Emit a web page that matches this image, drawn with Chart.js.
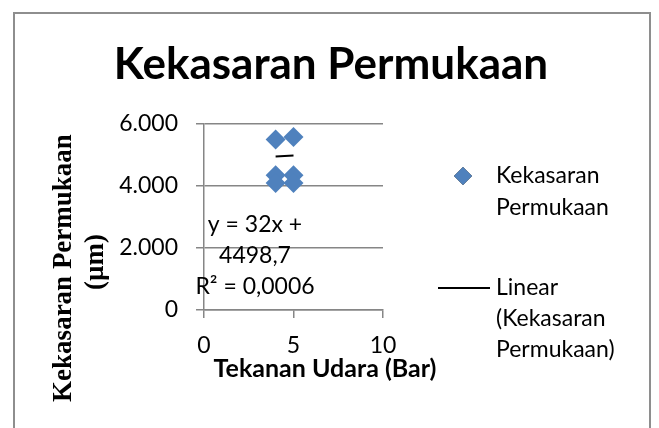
<!DOCTYPE html>
<html>
<head>
<meta charset="utf-8">
<script src="https://cdn.jsdelivr.net/npm/chart.js@4.4.1/dist/chart.umd.min.js"></script>
<style>
  body { margin: 0; background: #fff; }
  #wrap { position: relative; width: 659px; height: 428px; overflow: hidden; }
  #frame { position: absolute; left: 13px; top: 12px; width: 638px; height: 430px; border: 2px solid #8e8e8e; box-sizing: border-box; }
  canvas { position: absolute; left: 0; top: 0; }
</style>
</head>
<body>
<div id="wrap">
  <div id="frame"></div>
  <canvas id="myChart" width="659" height="428"></canvas>
</div>
<script>
// values
const pressure = [4, 4, 4, 5, 5, 5]
const roughness = [5500, 4350, 4100, 5580, 4350, 4100]
const trendX = [4, 5]
const trendY = [4955, 4987]
const xTicks = [0, 5, 10]
const yTicks = [0, 2000, 4000, 6000]

const chartTitle = 'Kekasaran Permukaan'
const xTitle = 'Tekanan Udara (Bar)'
const yTitle = ['Kekasaran Permukaan', '(µm)']
const equation = ['y = 32x +', '4498,7', 'R² = 0,0006']
const legendScatter = ['Kekasaran', 'Permukaan']
const legendTrend = ['Linear', '(Kekasaran', 'Permukaan)']

const blue = '#4F81BD'
const axisGray = '#868686'
const sans = 'Lato, "Open Sans", sans-serif'

function formatThousands(v) {
    return v === 0 ? '0' : (v / 1000).toFixed(3)
}

const textPlugin = {
    id: 'texts',
    afterDraw(chart) {
        const ctx = chart.ctx
        const area = chart.chartArea
        ctx.save()
        ctx.fillStyle = '#000'
        ctx.textBaseline = 'middle'

        // chart title
        ctx.textAlign = 'center'
        ctx.font = 'bold 44px ' + sans
        ctx.fillText(chartTitle, 331, 65)

        // x axis title
        ctx.font = 'bold 25px ' + sans
        ctx.fillText(xTitle, 325, 369)

        // y axis title (rotated)
        ctx.save()
        ctx.translate(64, 268)
        ctx.rotate(-Math.PI / 2)
        ctx.font = 'bold 27px "Liberation Serif", "Times New Roman", serif'
        ctx.fillText(yTitle[0], 0, 0)
        ctx.fillText(yTitle[1], 6, 32)
        ctx.restore()

        // trendline label
        ctx.font = '23px ' + sans
        equation.forEach((line, i) => {
            ctx.fillText(line, area.left + 51, 225 + i * 31)
        })

        // legend
        ctx.textAlign = 'left'
        ctx.font = '23px ' + sans
        Chart.helpers.drawPoint(ctx, {pointStyle: 'rectRot', radius: 9, rotation: 0}, 463, 176)
        ctx.fillStyle = blue
        ctx.fill()
        ctx.fillStyle = '#000'
        legendScatter.forEach((line, i) => ctx.fillText(line, 496, 176 + i * 32))

        ctx.strokeStyle = '#000'
        ctx.lineWidth = 2
        ctx.beginPath()
        ctx.moveTo(438, 288)
        ctx.lineTo(490, 288)
        ctx.stroke()
        legendTrend.forEach((line, i) => ctx.fillText(line, 496, 288 + i * 31))

        ctx.restore()
    }
}

new Chart(document.getElementById('myChart'), {
    type: 'scatter',
    data: {
        datasets: [{
            label: 'Kekasaran Permukaan',
            data: pressure.map((x, i) => ({x: x, y: roughness[i]})),
            pointStyle: 'rectRot',
            pointRadius: 10,
            backgroundColor: blue,
            borderColor: blue,
            borderWidth: 0
        }, {
            type: 'line',
            label: 'Linear (Kekasaran Permukaan)',
            data: trendX.map((x, i) => ({x: x, y: trendY[i]})),
            borderColor: '#000',
            borderWidth: 2,
            pointRadius: 0,
            fill: false
        }]
    },
    options: {
        responsive: false,
        animation: false,
        layout: {
            padding: {left: 30, right: 276, top: 124, bottom: 0}
        },
        plugins: {
            legend: {display: false},
            title: {display: false},
            tooltip: {enabled: false}
        },
        scales: {
            x: {
                type: 'linear',
                min: 0,
                max: 10,
                afterBuildTicks: scale => { scale.ticks = xTicks.map(v => ({value: v})) },
                afterFit: scale => { scale.height = 118 },
                grid: {
                    drawOnChartArea: false,
                    drawTicks: true,
                    tickLength: 8,
                    color: axisGray,
                    lineWidth: 1.5
                },
                border: {color: axisGray, width: 1.5},
                ticks: {
                    color: '#000',
                    padding: 14,
                    font: {family: sans, size: 23}
                }
            },
            y: {
                min: 0,
                max: 6000,
                afterBuildTicks: scale => { scale.ticks = yTicks.map(v => ({value: v})) },
                afterFit: scale => { scale.width = 174 },
                grid: {
                    color: axisGray,
                    lineWidth: 1.5,
                    tickLength: 8
                },
                border: {color: axisGray, width: 1.5},
                ticks: {
                    color: '#000',
                    padding: 18,
                    font: {family: sans, size: 23},
                    callback: v => formatThousands(v)
                }
            }
        }
    },
    plugins: [textPlugin]
})
</script>
</body>
</html>
